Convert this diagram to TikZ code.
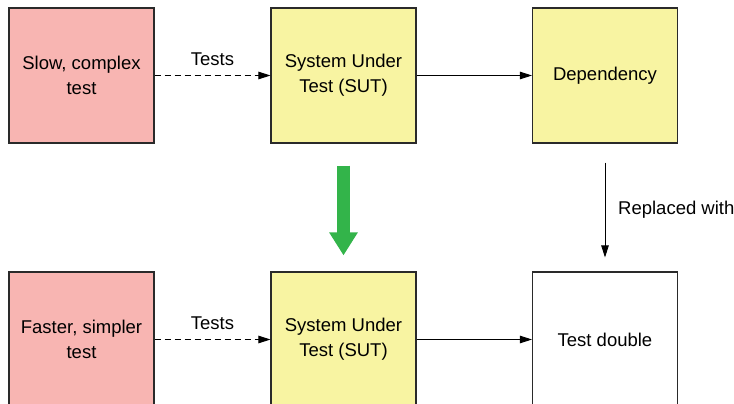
\documentclass[tikz,border=0pt]{standalone}
\usepackage{fontspec}
\setmainfont{Liberation Sans}
\usetikzlibrary{arrows.meta}
\definecolor{pinkfill}{HTML}{F8B5B2}
\definecolor{yellowfill}{HTML}{F8F4A2}
\definecolor{greenarrow}{HTML}{33B44A}
\definecolor{boxline}{HTML}{2A2A2A}
\begin{document}
\begin{tikzpicture}[x=1pt,y=-1pt,
  box/.style={draw=boxline, line width=1.1pt, minimum width=145pt, minimum height=135pt,
    align=center, inner sep=0pt, font=\fontsize{18.5}{25}\selectfont},
  testbox/.style={box, fill=pinkfill},
  sutbox/.style={box, fill=yellowfill},
  plainbox/.style={box, fill=white},
  conn/.style={line width=0.9pt, -{Triangle[length=12pt,width=7.5pt]}},
  lbl/.style={font=\fontsize{18.5}{25}\selectfont, inner sep=0pt}
]
\useasboundingbox (0,0) rectangle (734,404);
\clip (0,0) rectangle (734,404);

\node[testbox] (slow) at (81.5,75.5) {Slow, complex\\test};
\node[sutbox] (sut1) at (343.5,75.5) {System Under\\Test (SUT)};
\node[sutbox] (dep) at (605,75.5) {Dependency};

\node[testbox] (fast) at (81.5,339.5) {Faster, simpler\\test};
\node[sutbox] (sut2) at (343.5,339.5) {System Under\\Test (SUT)};
\node[plainbox] (td) at (605,339.5) {Test double};

\draw[conn, dashed, dash pattern=on 6pt off 4pt] (slow) -- node[lbl, midway, above=9pt] {Tests} (sut1);
\draw[conn] (sut1) -- (dep);
\draw[conn, dashed, dash pattern=on 6pt off 4pt] (fast) -- node[lbl, midway, above=9pt] {Tests} (sut2);
\draw[conn] (sut2) -- (td);

\draw[conn, shorten <=19pt, shorten >=14pt] (dep.south) -- (td.north);
\node[lbl, anchor=west] (rep) at (618,210) {Replaced with};

\draw[greenarrow, line width=12.6pt, shorten <=22pt, shorten >=16pt,
  -{Triangle[length=23pt,width=27pt]}] (sut1.south) -- (sut2.north);
\end{tikzpicture}
\end{document}
